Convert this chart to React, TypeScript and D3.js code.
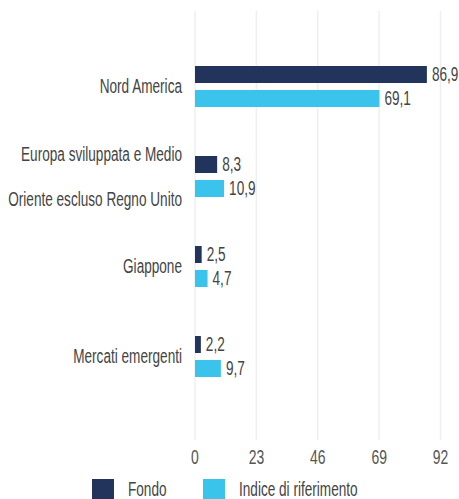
import React from "react";
import * as d3 from "d3";

const categories: string[][] = [
  ["Nord America"],
  ["Europa sviluppata e Medio", "Oriente escluso Regno Unito"],
  ["Giappone"],
  ["Mercati emergenti"],
];
const fondo = [86.9, 8.3, 2.5, 2.2];
const indice = [69.1, 10.9, 4.7, 9.7];
const ticks = [0, 23, 46, 69, 92];
const seriesNames = ["Fondo", "Indice di riferimento"];
const colors = ["#22345B", "#3AC4EC"];

const W = 459;
const H = 499;
const FONT = "'Liberation Sans', Arial, sans-serif";
const SX = 0.68;

function T({ x, y, anchor, children, size = 20, fill = "#444" }: any) {
  return (
    <text
      transform={`translate(${x},${y}) scale(${SX},1)`}
      textAnchor={anchor}
      fontFamily={FONT}
      fontSize={size}
      fill={fill}
    >
      {children}
    </text>
  );
}

export default function App() {
  const x = d3.scaleLinear().domain([0, 92]).range([195, 440.5]);
  const y = d3
    .scaleBand<number>()
    .domain(categories.map((_, i) => i))
    .range([44.5, 404.5]);
  const fmt = (v: number) => v.toFixed(1).replace(".", ",");
  const barH = 17;
  const gap = 7;

  return (
    <svg
      width={W}
      height={H}
      style={{ position: "absolute", left: 0, top: 0 }}
    >
      <rect width={W} height={H} fill="#fff" />
      {ticks.map((t) => (
        <g key={t}>
          <line
            x1={x(t)}
            x2={x(t)}
            y1={11}
            y2={440}
            stroke="#efefef"
            strokeWidth={1.5}
          />
          <T x={x(t)} y={464} anchor="middle" fill="#555" size={20.5}>
            {t}
          </T>
        </g>
      ))}
      {categories.map((lines, i) => {
        const c = (y(i) as number) + y.bandwidth() / 2;
        const vals = [fondo[i], indice[i]];
        return (
          <g key={i}>
            {lines.length === 1 ? (
              <T x={182} y={c + 3.5} anchor="end">
                {lines[0]}
              </T>
            ) : (
              <>
                <T x={182} y={c - 19} anchor="end">
                  {lines[0]}
                </T>
                <T x={182} y={c + 26.5} anchor="end">
                  {lines[1]}
                </T>
              </>
            )}
            {vals.map((v, k) => {
              const top = k === 0 ? c - gap / 2 - barH - 3 : c + gap / 2 - 3;
              return (
                <g key={k}>
                  <rect
                    x={x(0)}
                    y={top}
                    width={x(v) - x(0)}
                    height={barH}
                    fill={colors[k]}
                  />
                  <T x={x(v) + 5} y={top + barH / 2 + 6.5} anchor="start">
                    {fmt(v)}
                  </T>
                </g>
              );
            })}
          </g>
        );
      })}
      {seriesNames.map((s, k) => {
        const lx = k === 0 ? 92 : 203;
        return (
          <g key={s}>
            <rect x={lx} y={479} width={22} height={22} fill={colors[k]} />
            <T x={lx + 36} y={495.5} anchor="start">
              {s}
            </T>
          </g>
        );
      })}
    </svg>
  );
}
